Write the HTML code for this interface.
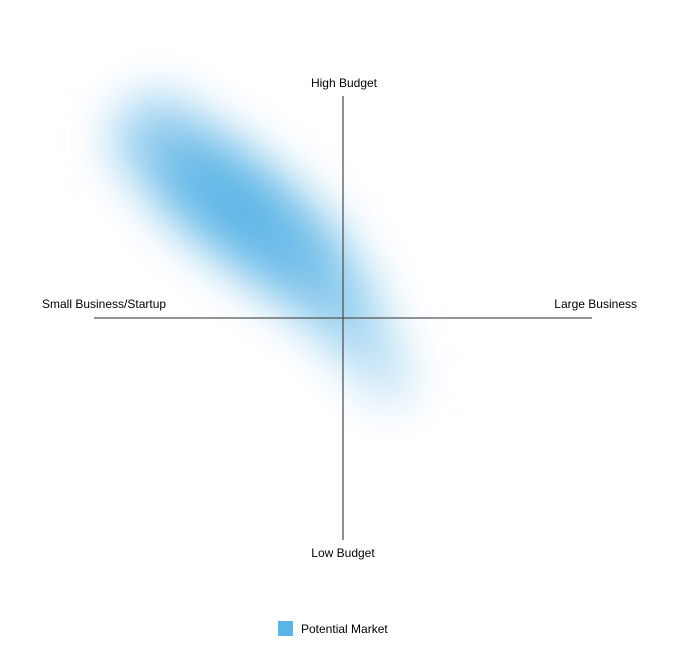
<!DOCTYPE html>
<html><head><meta charset="utf-8"><style>
body{margin:0;background:#fff;}
svg{display:block;font-family:"Liberation Sans",sans-serif;}
</style></head><body>
<svg width="686" height="663" viewBox="0 0 686 663">
<defs>
<filter id="blur" x="-50%" y="-50%" width="200%" height="200%"><feGaussianBlur stdDeviation="24"/></filter>
</defs>
<g id="blob" filter="url(#blur)"></g>
<line x1="343" y1="96" x2="343" y2="540" stroke="#555" stroke-width="1.3"/>
<line x1="94" y1="318" x2="592" y2="318" stroke="#555" stroke-width="1.3"/>
<text x="344" y="87" font-size="12" text-anchor="middle">High Budget</text>
<text x="343" y="557" font-size="12" text-anchor="middle">Low Budget</text>
<text x="42" y="308" font-size="12">Small Business/Startup</text>
<text x="637" y="308" font-size="12" text-anchor="end">Large Business</text>
<rect x="278" y="621" width="15" height="15" fill="#5ab4e6"/>
<text x="301" y="633" font-size="12">Potential Market</text>
</svg>
<script>
// market region spine in data coords (x: -1..1 small->large, y: -1..1 low->high)
const spineX = [-0.74, -0.56, -0.36, -0.18, -0.04, 0.06, 0.14, 0.19];
const spineY = [0.8, 0.62, 0.44, 0.27, 0.1, -0.06, -0.2, -0.3];
const spineW = [80, 100, 100, 85, 65, 55, 45, 35];
const spineIntensity = [0.45, 0.85, 1.0, 0.95, 0.8, 0.65, 0.5, 0.35];
function sx(v){return 343 + v*249;}
function sy(v){return 318 - v*222;}
function col(t){
  const r=Math.round(255+(90-255)*t), gg=Math.round(255+(180-255)*t), b=Math.round(255+(230-255)*t);
  return 'rgb('+r+','+gg+','+b+')';
}
const g = document.getElementById('blob');
for(let i=0;i<spineX.length-1;i++){
  const l=document.createElementNS('http://www.w3.org/2000/svg','line');
  l.setAttribute('x1',sx(spineX[i]));l.setAttribute('y1',sy(spineY[i]));
  l.setAttribute('x2',sx(spineX[i+1]));l.setAttribute('y2',sy(spineY[i+1]));
  l.setAttribute('stroke',col((spineIntensity[i]+spineIntensity[i+1])/2));
  l.setAttribute('stroke-width',(spineW[i]+spineW[i+1])/2);
  l.setAttribute('stroke-linecap','round');
  
  
  g.appendChild(l);
}
</script>
</body></html>
